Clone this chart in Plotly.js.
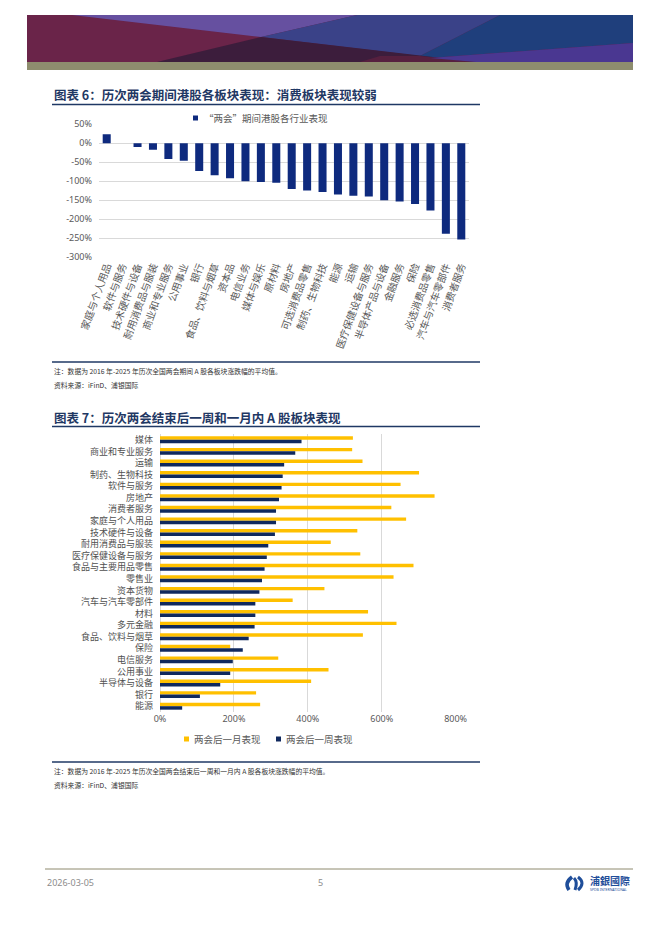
<!DOCTYPE html>
<html><head><meta charset="utf-8">
<script src="https://cdn.plot.ly/plotly-3.0.1.min.js"></script>
<style>html,body{margin:0;padding:0;background:#fff;} #chart{width:662px;height:936px;}</style>
</head><body><div id="chart"></div>
<script>
const W = 662, H = 936;
const px = x => x / W;
const py = y => 1 - y / H;
const CJK = '"Noto Sans CJK SC", "Noto Sans", sans-serif';
const LAT = '"Noto Sans", "Liberation Sans", sans-serif';

// ---- Chart 6 data ----
const sectorsHK = ['家庭与个人用品','软件与服务','技术硬件与设备','耐用消费品与服装','商业和专业服务','公用事业','银行','食品、饮料与烟草','资本品','电信业务','媒体与娱乐','原材料','房地产','可选消费品零售','制药、生物科技','能源','运输','医疗保健设备与服务','半导体产品与设备','金融服务','保险','必选消费品零售','汽车与汽车零部件','消费者服务'];
const hkChange = [24, 0, -10, -17, -41, -46, -73, -84, -92, -100, -102, -104, -120, -124, -128, -135, -138, -140, -150, -153, -160, -177, -238, -253];
const hkTicks = [50, 0, -50, -100, -150, -200, -250, -300];
const hkSeriesName = '“两会”期间港股各行业表现';

// ---- Chart 7 data ----
const sectorsA = ['媒体','商业和专业服务','运输','制药、生物科技','软件与服务','房地产','消费者服务','家庭与个人用品','技术硬件与设备','耐用消费品与服装','医疗保健设备与服务','食品与主要用品零售','零售业','资本货物','汽车与汽车零部件','材料','多元金融','食品、饮料与烟草','保险','电信服务','公用事业','半导体与设备','银行','能源'];
const monthAfter = [522, 520, 548, 701, 651, 743, 626, 666, 534, 462, 542, 686, 632, 445, 359, 563, 640, 549, 190, 320, 456, 409, 260, 271];
const weekAfter  = [383, 366, 336, 332, 329, 322, 314, 314, 311, 293, 289, 283, 276, 269, 258, 258, 256, 240, 224, 197, 190, 163, 108, 60];
const aTicks = [0, 200, 400, 600, 800];
const monthName = '两会后一月表现';
const weekName = '两会后一周表现';

const C6 = '#0E2A7E', CY = '#FFC000', CN = '#10295E';

const traces = [
  {type:'bar', x:sectorsHK, y:hkChange, xaxis:'x', yaxis:'y', name:hkSeriesName,
   marker:{color:C6}, width:0.52, showlegend:false},
  {type:'bar', orientation:'h', y:sectorsA, x:monthAfter, xaxis:'x2', yaxis:'y2', name:monthName,
   marker:{color:CY}, showlegend:false},
  {type:'bar', orientation:'h', y:sectorsA, x:weekAfter, xaxis:'x2', yaxis:'y2', name:weekName,
   marker:{color:CN}, showlegend:false}
];

function poly(pts, color) {
  const d = pts.map((p, i) => (i ? 'L' : 'M') + px(p[0]).toFixed(5) + ',' + py(p[1]).toFixed(5)).join(' ') + ' Z';
  return {type:'path', xref:'paper', yref:'paper', path:d, fillcolor:color, line:{width:0}};
}
function rect(x0, y0, x1, y1, color) {
  return {type:'rect', xref:'paper', yref:'paper', x0:px(x0), x1:px(x1), y0:py(y1), y1:py(y0), fillcolor:color, line:{width:0}};
}
function hline(x0, x1, y, color, w) {
  return {type:'line', xref:'paper', yref:'paper', x0:px(x0), x1:px(x1), y0:py(y), y1:py(y), line:{color:color, width:w}};
}
function txt(x, y, text, size, color, opts) {
  return Object.assign({xref:'paper', yref:'paper', x:px(x), y:py(y), text:text, showarrow:false,
    xanchor:'left', yanchor:'middle', font:{size:size, color:color, family:CJK}}, opts || {});
}

const shapes = [
  // banner
  poly([[27,15],[633,15],[633,62],[27,62]], '#652246'),
  poly([[27,15],[72,15],[261,37],[157,62],[27,62]], '#6A2449'),
  poly([[72,15],[357,15],[261,37]], '#6650A0'),
  poly([[357,15],[500,15],[420,56],[261,37]], '#3A4288'),
  poly([[500,15],[633,15],[633,43],[430,58],[420,56]], '#1F3F7C'),
  poly([[157,62],[261,37],[476,62]], '#3C1D3C'),
  poly([[380,56],[420,56],[476,62],[360,62]], '#56203F'),
  poly([[430,58],[633,43],[633,62],[476,62]], '#4A3791'),
  poly([[27,62],[633,62],[633,70],[27,70]], '#8E8D6E'),
  // chart 6 rules
  hline(52, 480, 104.5, '#1F3864', 1.5),
  hline(52, 480, 362, '#1F3864', 1.5),
  // chart 7 rules
  hline(52, 480, 426.5, '#1F3864', 1.5),
  hline(52, 480, 762, '#1F3864', 1.5),
  // legend swatches
  rect(193, 115.5, 198, 120.5, C6),
  rect(184, 736.5, 189, 741.5, CY),
  rect(276, 736.5, 281, 741.5, CN),
  // footer
  hline(45, 633, 869, '#8E8A6E', 1),
  // logo icon
  {type:'path', xref:'paper', yref:'paper',
   path:'M'+px(572)+','+py(877)+' Q'+px(564)+','+py(883)+' '+px(569)+','+py(890), line:{color:'#1F4E9A', width:3.5}},
  {type:'path', xref:'paper', yref:'paper',
   path:'M'+px(575)+','+py(890)+' Q'+px(578)+','+py(882)+' '+px(574)+','+py(878)+' M'+px(578)+','+py(877)+' Q'+px(586)+','+py(883)+' '+px(578)+','+py(890), line:{color:'#1F4E9A', width:3}}
];

const annotations = [
  txt(52, 95, '图表 6：历次两会期间港股各板块表现：消费板块表现较弱', 12.5, '#1F3864', {font:{size:12.5, color:'#1F3864', family:CJK, weight:'bold'}}),
  txt(202, 118, hkSeriesName, 9.5, '#595959'),
  txt(52, 371, '注：数据为 2016 年-2025 年历次全国两会期间 A 股各板块涨跌幅的平均值。', 6.8, '#333333'),
  txt(52, 385, '资料来源：iFinD、浦银国际', 6.8, '#333333'),
  txt(52, 417, '图表 7：历次两会结束后一周和一月内 A 股板块表现', 12.5, '#1F3864', {font:{size:12.5, color:'#1F3864', family:CJK, weight:'bold'}}),
  txt(192, 739, monthName, 9.5, '#595959'),
  txt(284, 739, weekName, 9.5, '#595959'),
  txt(52, 771, '注：数据为 2016 年-2025 年历次全国两会结束后一周和一月内 A 股各板块涨跌幅的平均值。', 6.8, '#333333'),
  txt(52, 785, '资料来源：iFinD、浦银国际', 6.8, '#333333'),
  txt(45, 882, '2026-03-05', 9, '#8C8C8C', {font:{size:9, color:'#8C8C8C', family:LAT}}),
  txt(316, 882, '5', 9, '#8C8C8C', {font:{size:9, color:'#8C8C8C', family:LAT}}),
  txt(588, 880, '浦銀國際', 10, '#1F4E9A', {font:{size:10, color:'#1F4E9A', family:CJK, weight:'bold'}}),
  txt(588, 889, 'SPDB INTERNATIONAL', 3.5, '#1F4E9A', {font:{size:3.5, color:'#1F4E9A', family:LAT}})
];

const layout = {
  width: W, height: H,
  margin: {l:0, r:0, t:0, b:0},
  paper_bgcolor: '#ffffff', plot_bgcolor: 'rgba(0,0,0,0)',
  barmode: 'group', bargap: 0.4, bargroupgap: 0,
  showlegend: false,
  xaxis: {domain:[px(99), px(469)], anchor:'y', type:'category', tickangle:-70,
    tickfont:{size:10, color:'#595959', family:CJK}, showgrid:false, showline:false, ticks:'', zeroline:false, fixedrange:true},
  yaxis: {domain:[py(257.3), py(124.3)], anchor:'x', range:[-300, 50], tickmode:'array', tickvals:hkTicks,
    ticktext: hkTicks.map(v => v + '%'), tickfont:{size:9, color:'#595959', family:LAT},
    gridcolor:'#D9D9D9', gridwidth:1, zeroline:false, showline:false, ticks:'', ticklabelstandoff:6, fixedrange:true},
  xaxis2: {domain:[px(160), px(456)], anchor:'y2', range:[0, 801], tickmode:'array', tickvals:aTicks,
    ticktext: aTicks.map(v => v + '%'), tickfont:{size:9, color:'#595959', family:LAT},
    gridcolor:'#D9D9D9', gridwidth:1, zeroline:true, zerolinecolor:'#D9D9D9', zerolinewidth:1, showline:false, ticks:'', fixedrange:true},
  yaxis2: {domain:[py(712), py(434)], anchor:'x2', type:'category', autorange:'reversed',
    tickfont:{size:9, color:'#505050', family:CJK}, showgrid:false, showline:false, ticks:'', ticklabelstandoff:6, fixedrange:true},
  shapes: shapes,
  annotations: annotations
};

Plotly.newPlot('chart', traces, layout, {displayModeBar:false, staticPlot:true});
</script>
</body></html>
